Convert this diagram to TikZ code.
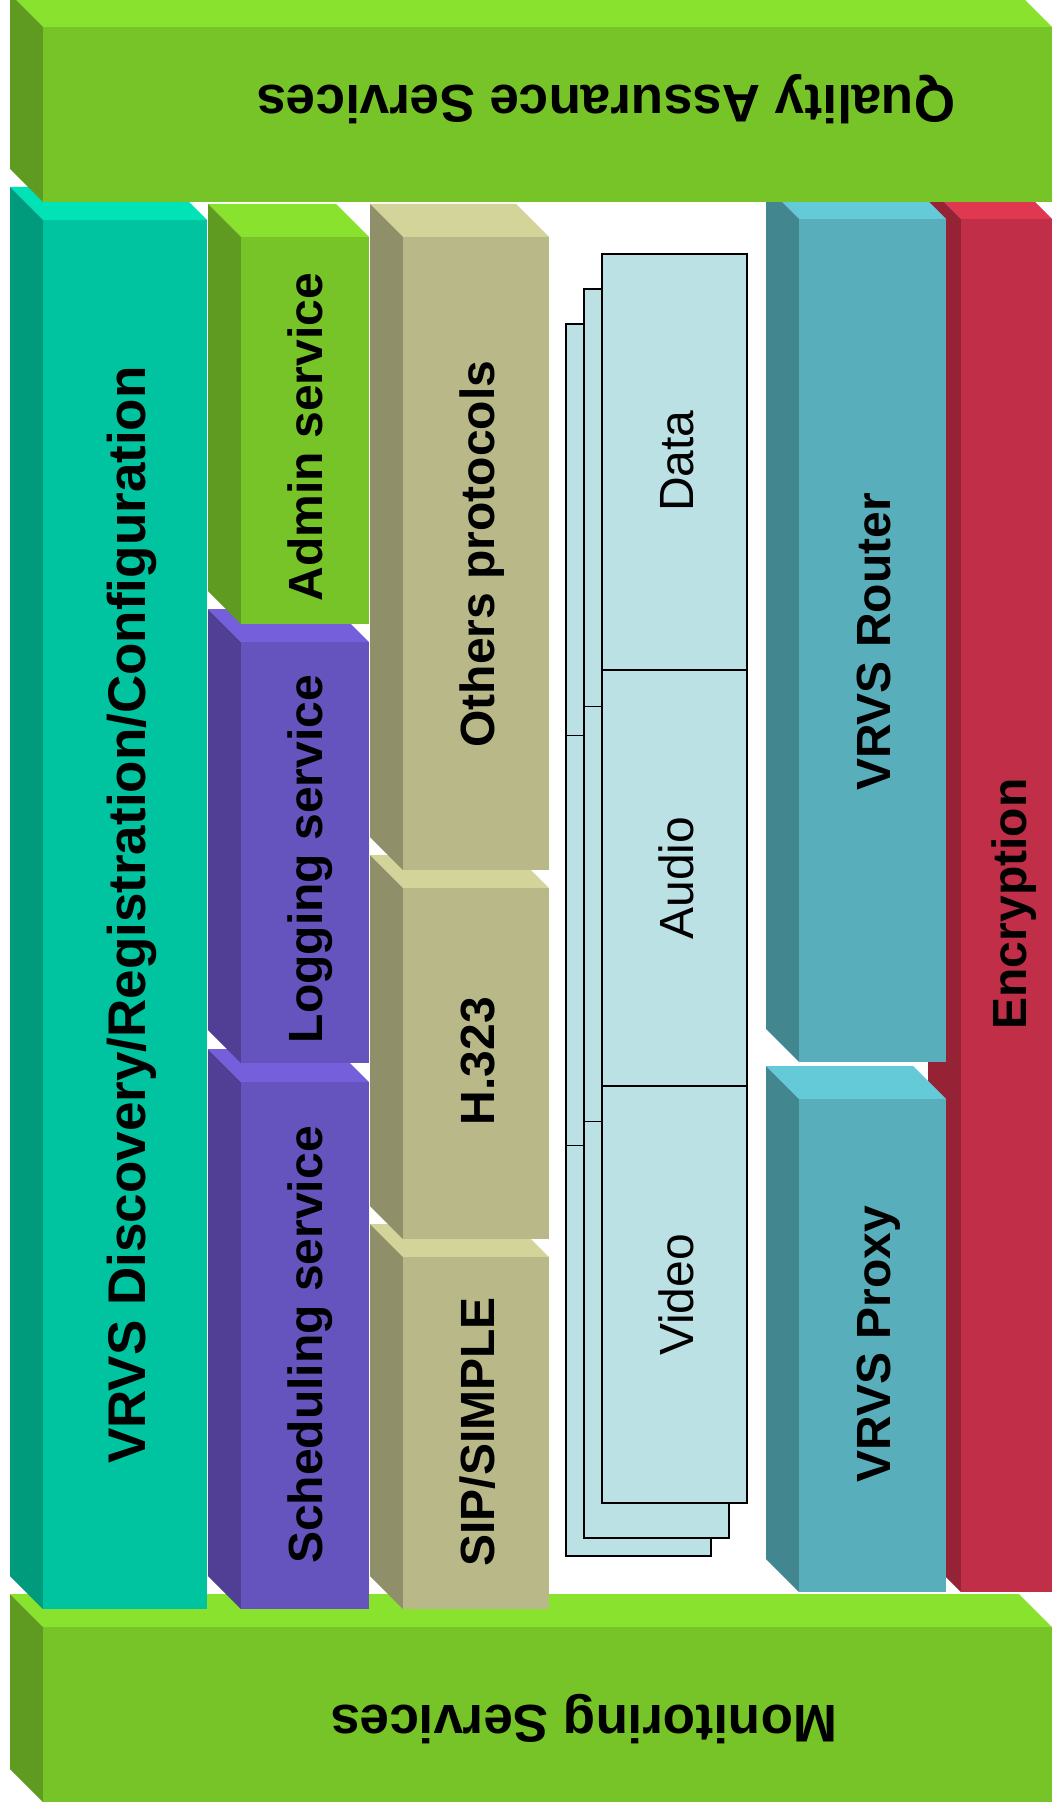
\documentclass[tikz,border=0pt]{standalone}
\usepackage{fontspec}
\usepackage{tikz}
\setmainfont{Liberation Sans}
\definecolor{grassF}{RGB}{119,196,40}
\definecolor{grassT}{RGB}{136,226,46}
\definecolor{grassS}{RGB}{95,154,33}
\definecolor{jadeF}{RGB}{0,195,159}
\definecolor{jadeT}{RGB}{0,227,182}
\definecolor{jadeS}{RGB}{0,154,124}
\definecolor{violetF}{RGB}{101,83,190}
\definecolor{violetT}{RGB}{117,95,219}
\definecolor{violetS}{RGB}{80,63,148}
\definecolor{khakiF}{RGB}{184,184,136}
\definecolor{khakiT}{RGB}{211,212,154}
\definecolor{khakiS}{RGB}{143,143,105}
\definecolor{cyanF}{RGB}{88,175,187}
\definecolor{cyanT}{RGB}{100,202,216}
\definecolor{cyanS}{RGB}{66,135,144}
\definecolor{rubyF}{RGB}{192,47,71}
\definecolor{rubyT}{RGB}{224,56,80}
\definecolor{rubyS}{RGB}{149,35,53}
\definecolor{paper}{RGB}{188,225,228}
\tikzset{
  lbl/.style={font=\bfseries\fontsize{48}{56}\selectfont, anchor=base, rotate=90, inner sep=0pt},
  bigv/.style={lbl, font=\bfseries\fontsize{53}{60}\selectfont},
  bigh/.style={font=\bfseries\fontsize{53}{60}\selectfont, anchor=base, rotate=180, inner sep=0pt},
  media/.style={lbl, font=\fontsize{48}{56}\selectfont},
  sheet/.style={fill=paper, draw=black, line width=1.3pt}
}

\begin{document}
\begin{tikzpicture}[x=1pt,y=-1pt]

\useasboundingbox (0,0) rectangle (1053,1811);
\clip (0,0) rectangle (1053,1811);

\def\dd{33}
% block: x0 y0 x1 y1 colour
\def\slab#1#2#3#4#5{%
  \fill[#5T] (#1,#2) -- (#3,#2) -- (#3-\dd,#2-\dd) -- (#1-\dd,#2-\dd) -- cycle;
  \fill[#5S] (#1,#2) -- (#1,#4) -- (#1-\dd,#4-\dd) -- (#1-\dd,#2-\dd) -- cycle;
  \fill[#5F] (#1,#2) rectangle (#3,#4);
}

% bottom bar
\slab{43}{1627}{1052}{1802}{grass}

% service column
\slab{241}{1082}{369}{1609}{violet}
\slab{241}{642}{369}{1063}{violet}
\slab{241}{237}{369}{624}{grass}

% protocol column
\slab{403}{1257}{549}{1609}{khaki}
\slab{403}{888}{549}{1239}{khaki}
\slab{403}{237}{549}{870}{khaki}

\slab{43}{220}{207}{1609}{jade}

% right side
\slab{961}{219}{1052}{1592}{ruby}
\slab{799}{1099}{946}{1592}{cyan}
\slab{799}{219}{946}{1062}{cyan}

% media sheets
\draw[sheet] (566,324) rectangle (711,1556);
\draw (566,735) -- (711,735);
\draw (566,1145) -- (711,1145);
\draw[sheet] (584,289) rectangle (729,1538);
\draw (584,706) -- (729,706);
\draw (584,1121) -- (729,1121);
\draw[sheet] (602,254) rectangle (747,1503);
\draw[line width=1.3pt] (602,670) -- (747,670);
\draw[line width=1.3pt] (602,1086) -- (747,1086);

% top bar
\slab{43}{27}{1052}{202}{grass}

\node[bigh] (qa) at (606,86) {Quality Assurance Services};
\node[bigh] (mon) at (584,1705) {Monitoring Services};
\node[bigv] (disc) at (145,915) {VRVS Discovery/Registration/Configuration};

\node[lbl] (admin) at (322,437) {Admin service};
\node[lbl] (log) at (322,859) {Logging service};
\node[lbl] (sched) at (322,1345) {Scheduling service};

\node[lbl] (other) at (494,554) {Others protocols};
\node[lbl] (h323) at (494,1061) {H.323};
\node[lbl] (sip) at (494,1432) {SIP/SIMPLE};

\node[media] (data) at (693,461) {Data};
\node[media] (audio) at (693,878) {Audio};
\node[media] (video) at (693,1295) {Video};

\node[lbl] (router) at (890,642) {VRVS Router};
\node[lbl] (proxy) at (890,1344) {VRVS Proxy};
\node[lbl] (crypt) at (1026,904) {Encryption};

\end{tikzpicture}
\end{document}
